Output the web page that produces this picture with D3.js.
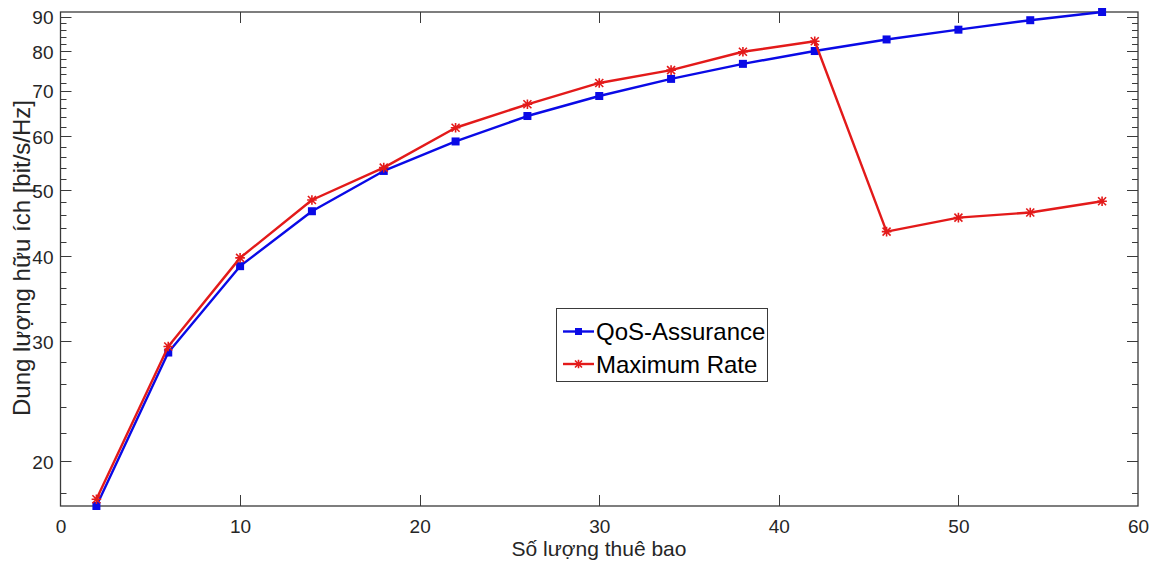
<!DOCTYPE html>
<html>
<head>
<meta charset="utf-8">
<script src="https://cdn.jsdelivr.net/npm/d3@7"></script>
<style>
	html, body { margin: 0; padding: 0; background: #fff; }
	svg { display: block; font-family: "Liberation Sans", Arial, sans-serif; }
</style>
</head>
<body>
<svg id="chart" width="1157" height="569"></svg>
<script>
// so thue bao (x)
var users = [2, 6, 10, 14, 18, 22, 26, 30, 34, 38, 42, 46, 50, 54, 58];
// dung luong huu ich [bit/s/Hz]
var qosAssurance = [17.2, 28.9, 38.7, 46.6, 53.4, 59.0, 64.3, 68.8, 72.9, 76.7, 80.1, 83.3, 86.1, 88.9, 91.4];
var maximumRate  = [17.6, 29.5, 39.8, 48.4, 54.0, 61.8, 66.9, 71.9, 75.1, 79.9, 82.8, 43.5, 45.6, 46.4, 48.2];

var xTicks = [0, 10, 20, 30, 40, 50, 60];
var yTicks = [20, 30, 40, 50, 60, 70, 80, 90];
var yMinorTicks = [18, 22, 24, 26, 28, 32, 34, 36, 38, 42, 44, 46, 48, 52, 54, 56, 58,
	62, 64, 66, 68, 72, 74, 76, 78, 82, 84, 86, 88];

var seriesNames = ['QoS-Assurance', 'Maximum Rate'];

+function(){
	var svg = d3.select('#chart');
	var left = 60.5, right = 1138, top = 12, bottom = 506;
	var axisColor = '#3a3a3a';
	var textColor = '#262626';
	var blue = '#0a0ae6', red = '#e31a1a';

	var allY = qosAssurance.concat(maximumRate);
	var x = d3.scaleLinear().domain([0, 60]).range([left, right]);
	var y = d3.scaleLog().domain([d3.min(allY), d3.max(allY)]).range([bottom, top]);

	// ticks (inward, like matlab)
	var g = svg.append('g');
	function tickLines(vals, len, side){
		vals.forEach(function(v){
			var p;
			if(side === 'left' || side === 'right'){
				p = Math.round(y(v)) + 0.5;
				var x0 = side === 'left' ? left : right;
				var x1 = side === 'left' ? left + len : right - len;
				g.append('line').attr('x1', x0).attr('x2', x1).attr('y1', p).attr('y2', p)
					.attr('stroke', axisColor).attr('stroke-width', 1);
			}else{
				p = Math.round(x(v)) + 0.5;
				var y0 = side === 'bottom' ? bottom : top;
				var y1 = side === 'bottom' ? bottom - len : top + len;
				g.append('line').attr('x1', p).attr('x2', p).attr('y1', y0).attr('y2', y1)
					.attr('stroke', axisColor).attr('stroke-width', 1);
			}
		});
	}
	tickLines(yTicks, 11, 'left');
	tickLines(yTicks, 11, 'right');
	tickLines(yMinorTicks, 6, 'left');
	tickLines(yMinorTicks, 6, 'right');
	tickLines(xTicks.slice(1, -1), 11, 'bottom');
	tickLines(xTicks.slice(1, -1), 11, 'top');

	// box
	g.append('rect')
		.attr('x', left).attr('y', top)
		.attr('width', right - left).attr('height', bottom - top)
		.attr('fill', 'none').attr('stroke', axisColor).attr('stroke-width', 1.3);

	// tick labels
	var xAxis = svg.append('g')
		.attr('transform', 'translate(0,' + bottom + ')')
		.call(d3.axisBottom(x).tickValues(xTicks).tickSize(0).tickPadding(0).tickFormat(d3.format('d')));
	xAxis.select('.domain').remove();
	xAxis.selectAll('text')
		.attr('dy', null).attr('y', 27)
		.attr('fill', textColor).style('font-size', '19px').style('font-family', 'Liberation Sans, Arial, sans-serif');

	var yAxis = svg.append('g')
		.attr('transform', 'translate(' + left + ',0)')
		.call(d3.axisLeft(y).tickValues(yTicks).tickSize(0).tickPadding(0).tickFormat(d3.format('d')));
	yAxis.select('.domain').remove();
	yAxis.selectAll('text')
		.attr('x', -7).attr('dy', '0.35em')
		.attr('fill', textColor).style('font-size', '19px').style('font-family', 'Liberation Sans, Arial, sans-serif');

	// axis titles
	svg.append('text')
		.attr('x', 599).attr('y', 556)
		.attr('text-anchor', 'middle')
		.attr('fill', textColor).style('font-size', '21px')
		.text('Số lượng thuê bao');
	svg.append('text')
		.attr('transform', 'translate(30,258) rotate(-90)')
		.attr('text-anchor', 'middle')
		.attr('fill', textColor).style('font-size', '24px')
		.text('Dung lượng hữu ích [bit/s/Hz]');

	var line = d3.line()
		.x(function(d){ return x(d[0]); })
		.y(function(d){ return y(d[1]); });

	var qosData = users.map(function(u, i){ return [u, qosAssurance[i]]; });
	var maxData = users.map(function(u, i){ return [u, maximumRate[i]]; });

	var plot = svg.append('g');

	plot.append('path').datum(qosData)
		.attr('d', line).attr('fill', 'none')
		.attr('stroke', blue).attr('stroke-width', 2.4).attr('stroke-linejoin', 'round');
	plot.selectAll('.qos-mark').data(qosData).enter()
		.append('rect').attr('class', 'qos-mark')
		.attr('x', function(d){ return x(d[0]) - 4; })
		.attr('y', function(d){ return y(d[1]) - 4; })
		.attr('width', 8).attr('height', 8)
		.attr('fill', blue);

	plot.append('path').datum(maxData)
		.attr('d', line).attr('fill', 'none')
		.attr('stroke', red).attr('stroke-width', 2.4).attr('stroke-linejoin', 'round');

	// '*' marker
	function star(sel, cx, cy, r, color){
		var p = 'M' + (cx - r) + ',' + (cy - r) + 'L' + (cx + r) + ',' + (cy + r) +
			'M' + (cx - r) + ',' + (cy + r) + 'L' + (cx + r) + ',' + (cy - r) +
			'M' + cx + ',' + (cy - r * 1.2) + 'L' + cx + ',' + (cy + r * 1.2) +
			'M' + (cx - r * 1.2) + ',' + cy + 'L' + (cx + r * 1.2) + ',' + cy;
		sel.append('path').attr('d', p).attr('fill', 'none')
			.attr('stroke', color).attr('stroke-width', 1.6);
	}
	maxData.forEach(function(d){
		star(plot, x(d[0]), y(d[1]), 4, red);
	});

	// legend
	var lg = svg.append('g');
	lg.append('rect')
		.attr('x', 556.5).attr('y', 308.5).attr('width', 211).attr('height', 73)
		.attr('fill', '#fff').attr('stroke', axisColor).attr('stroke-width', 1);
	var rows = [
		{ name: seriesNames[0], color: blue, cy: 331.5, mark: 'square' },
		{ name: seriesNames[1], color: red, cy: 364, mark: 'star' }
	];
	rows.forEach(function(r){
		lg.append('line')
			.attr('x1', 563).attr('x2', 594).attr('y1', r.cy).attr('y2', r.cy)
			.attr('stroke', r.color).attr('stroke-width', 2.4);
		if(r.mark === 'square'){
			lg.append('rect').attr('x', 578.5 - 3.5).attr('y', r.cy - 3.5)
				.attr('width', 7).attr('height', 7).attr('fill', r.color);
		}else{
			star(lg, 578.5, r.cy, 3.5, r.color);
		}
		lg.append('text')
			.attr('x', 596).attr('y', r.cy).attr('dy', '0.36em')
			.attr('fill', '#000').style('font-size', '24px')
			.text(r.name);
	});
}();
</script>
</body>
</html>
